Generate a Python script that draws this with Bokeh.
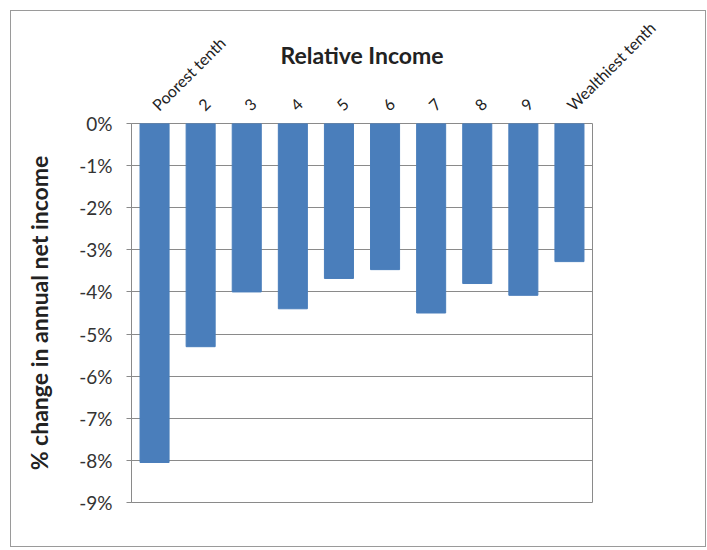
import math
from bokeh.plotting import figure
from bokeh.models import FixedTicker, NumeralTickFormatter, ColumnDataSource
from bokeh.embed import file_html
from bokeh.resources import INLINE

categories = ["Poorest tenth", "2", "3", "4", "5", "6", "7", "8", "9", "Wealthiest tenth"]
pct_change = [-8.05, -5.3, -4.0, -4.4, -3.68, -3.47, -4.5, -3.8, -4.08, -3.28]
y_ticks = [0, -1, -2, -3, -4, -5, -6, -7, -8, -9]

FONT = "Lato"
GRAY = "#8a8a8a"
BAR = "#4a7ebb"

src = ColumnDataSource(dict(cat=categories, val=[v / 100 for v in pct_change]))

p = figure(x_range=categories, y_range=(-0.09, 0.0), width=696, height=537,
           output_backend="svg", toolbar_location=None, x_axis_location="above",
           min_border_left=120, min_border_top=112, min_border_right=115,
           min_border_bottom=46)
p.styles = {"border": "1px solid #9a9a9a", "box-sizing": "border-box",
            "margin": "10px 0 0 10px"}

p.vbar(x="cat", top=0, bottom="val", width=0.63, color=BAR, source=src)

p.outline_line_color = GRAY
p.outline_line_width = 1
p.xgrid.grid_line_color = None
p.ygrid.grid_line_color = GRAY
p.ygrid.grid_line_width = 1

ya = p.yaxis[0]
ya.ticker = FixedTicker(ticks=[t / 100 for t in y_ticks])
ya.formatter = NumeralTickFormatter(format="0%")
ya.axis_line_color = GRAY
ya.major_tick_line_color = GRAY
ya.major_tick_out = 5
ya.major_tick_in = 0
ya.minor_tick_line_color = None
ya.major_label_text_font = FONT
ya.major_label_text_font_size = "19px"
ya.major_label_text_color = "#333333"
ya.major_label_standoff = 14
ya.axis_label = "% change in annual net income"
ya.axis_label_text_font = FONT
ya.axis_label_text_font_size = "23px"
ya.axis_label_text_font_style = "bold"
ya.axis_label_text_color = "#222222"
ya.axis_label_standoff = 23

xa = p.xaxis[0]
xa.axis_line_color = None
xa.major_tick_line_color = None
xa.minor_tick_line_color = None
xa.major_label_orientation = math.pi / 4
xa.major_label_text_font = FONT
xa.major_label_text_font_size = "16px"
xa.major_label_text_color = "#222222"
xa.major_label_standoff = 10
xa.axis_label = "Relative Income"
xa.axis_label_text_font = FONT
xa.axis_label_text_font_size = "23px"
xa.axis_label_text_font_style = "bold"
xa.axis_label_text_color = "#222222"
xa.axis_label_standoff = -61

open("out.html", "w").write(file_html(p, INLINE))
